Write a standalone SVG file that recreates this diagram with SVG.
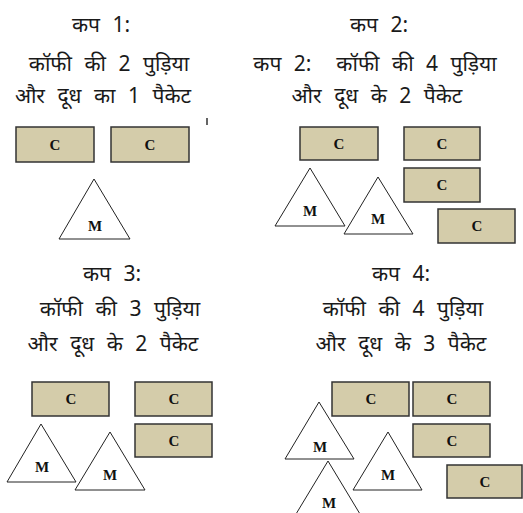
<svg xmlns="http://www.w3.org/2000/svg" width="523" height="513" viewBox="0 0 523 513">
<style>
.t{font-family:"Noto Sans","DejaVu Sans",sans-serif;font-size:21px;fill:#1a1a1a;text-anchor:middle;word-spacing:7px}
.c{fill:#D4CCAA;stroke:#333;stroke-width:1.5}
.m{fill:#fff;stroke:#222;stroke-width:1}
.l{font-family:"Liberation Serif",serif;font-weight:bold;font-size:15px;fill:#111;text-anchor:middle}
</style>
<rect width="523" height="513" fill="#fff"/>
<g id="cup1">
<text class="t" x="101" y="32">कप 1:</text>
<text class="t" x="109" y="71">कॉफी की 2 पुड़िया</text>
<text class="t" x="103" y="103">और दूध का 1 पैकेट</text>
<line x1="207" y1="118" x2="207" y2="125" stroke="#111" stroke-width="1.3"/>
<g id="cup1-c1"><rect class="c" x="16" y="127" width="78" height="35"/><text class="l" x="55" y="150">C</text></g>
<g id="cup1-c2"><rect class="c" x="111" y="127" width="78" height="35"/><text class="l" x="150" y="150">C</text></g>
<g id="cup1-m1"><polygon class="m" points="94,179 59,239 130,239"/><text class="l" x="95" y="231">M</text></g>
</g>
<g id="cup2">
<text class="t" x="379" y="32">कप 2:</text>
<text class="t" x="375" y="71" xml:space="preserve">कप 2:  कॉफी की 4 पुड़िया</text>
<text class="t" x="377" y="103">और दूध के 2 पैकेट</text>
<g id="cup2-c1"><rect class="c" x="300" y="127" width="78" height="33"/><text class="l" x="339" y="149">C</text></g>
<g id="cup2-c2"><rect class="c" x="404" y="127" width="76" height="33"/><text class="l" x="442" y="149">C</text></g>
<g id="cup2-c3"><rect class="c" x="404" y="168" width="76" height="34"/><text class="l" x="442" y="190">C</text></g>
<g id="cup2-c4"><rect class="c" x="438" y="209" width="77" height="34"/><text class="l" x="477" y="231">C</text></g>
<g id="cup2-m1"><polygon class="m" points="310,168 275,226 345,226"/><text class="l" x="310" y="216">M</text></g>
<g id="cup2-m2"><polygon class="m" points="378,177 344,234 413,234"/><text class="l" x="378" y="224">M</text></g>
</g>
<g id="cup3">
<text class="t" x="112" y="281">कप 3:</text>
<text class="t" x="120" y="316">कॉफी की 3 पुड़िया</text>
<text class="t" x="113" y="351">और दूध के 2 पैकेट</text>
<g id="cup3-c1"><rect class="c" x="32" y="382" width="77" height="34"/><text class="l" x="71" y="404">C</text></g>
<g id="cup3-c2"><rect class="c" x="135" y="382" width="77" height="34"/><text class="l" x="174" y="404">C</text></g>
<g id="cup3-c3"><rect class="c" x="135" y="424" width="77" height="33"/><text class="l" x="174" y="446">C</text></g>
<g id="cup3-m1"><polygon class="m" points="41,424 7,482 76,482"/><text class="l" x="42" y="472">M</text></g>
<g id="cup3-m2"><polygon class="m" points="110,432 75,490 145,490"/><text class="l" x="110" y="480">M</text></g>
</g>
<g id="cup4">
<text class="t" x="401" y="281">कप 4:</text>
<text class="t" x="403" y="316">कॉफी की 4 पुड़िया</text>
<text class="t" x="401" y="351">और दूध के 3 पैकेट</text>
<g id="cup4-c1"><rect class="c" x="332" y="382" width="77" height="34"/><text class="l" x="371" y="404">C</text></g>
<g id="cup4-c2"><rect class="c" x="413" y="382" width="77" height="34"/><text class="l" x="452" y="404">C</text></g>
<g id="cup4-c3"><rect class="c" x="413" y="424" width="77" height="33"/><text class="l" x="452" y="446">C</text></g>
<g id="cup4-c4"><rect class="c" x="447" y="465" width="75" height="33"/><text class="l" x="485" y="487">C</text></g>
<g id="cup4-m1"><polygon class="m" points="319,402 285,459 354,459"/><text class="l" x="320" y="452">M</text></g>
<g id="cup4-m2"><polygon class="m" points="388,432 353,490 422,490"/><text class="l" x="388" y="480">M</text></g>
<g id="cup4-m3"><polygon class="m" points="328,461 293,519 363,519"/><text class="l" x="329" y="508">M</text></g>
</g>
</svg>
